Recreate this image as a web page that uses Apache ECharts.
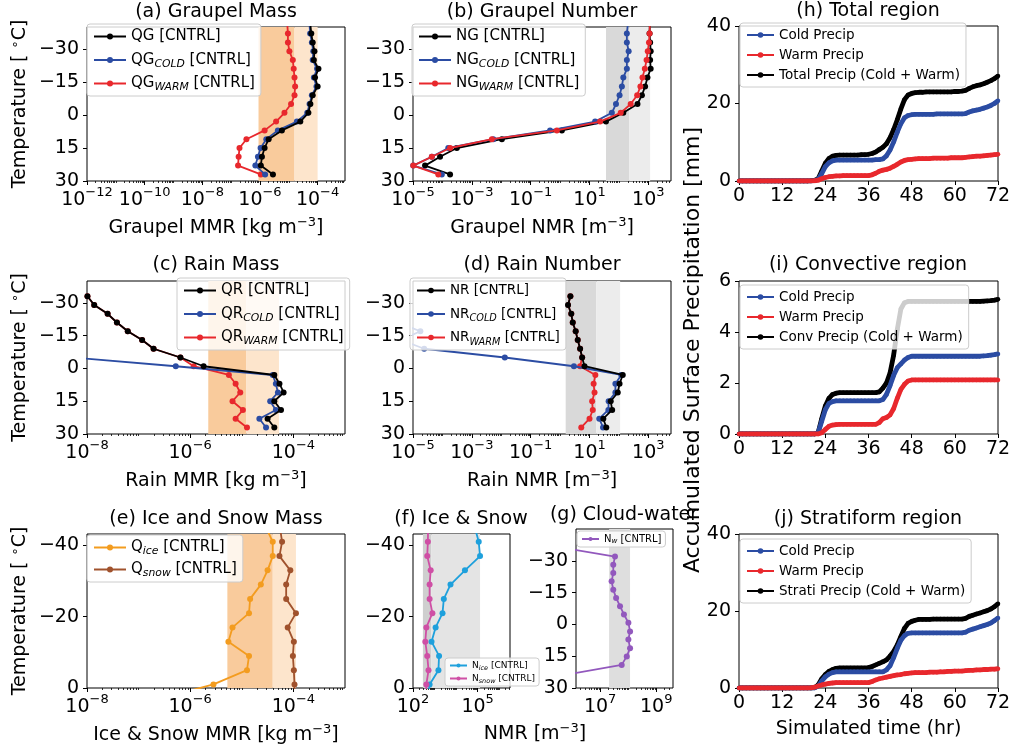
<!DOCTYPE html>
<html>
<head>
<meta charset="utf-8">
<script src="https://cdn.jsdelivr.net/npm/echarts@6/dist/echarts.min.js"></script>
<style>
  html, body { margin: 0; padding: 0; background: #ffffff; }
  #chart { width: 1022px; height: 751px; }
</style>
</head>
<body>
<div id="chart"></div>
<script>
// ---------- vertical profiles: temperature levels [°C] ----------
const tempAB = [-41, -37, -33, -29, -25, -21, -17, -13, -9, -5, -1, 3, 7, 11, 15, 19, 23, 27];
const tempCD = [-33, -29, -25, -21, -17, -13, -9, -5, -1, 3, 7, 11, 15, 19, 23, 27];
const tempRainCold = [-5, -1, 3, 7, 11, 15, 19, 23, 27];
const tempNrCold = [-21, -17, -13, -9, -5, -1, 3, 7, 11, 15, 19, 23, 27];
const tempEF = [-45, -41, -37, -33, -29, -25, -21, -17, -13, -9, -5, -1, 3];
const tempG = [-36, -32, -28.1, -24.2, -20.3, -16.4, -12.5, -8.6, -4.7, -0.8, 3.3, 7.1, 11.2, 15.1, 19.1, 23, 27];

// (a) graupel mass mixing ratio [kg m^-3]
const qgTotal = [5.62e-5, 6.03e-5, 6.76e-5, 7.76e-5, 7.41e-5, 1.07e-4, 8.13e-5, 1.0e-4, 6.76e-5, 5.62e-5, 4.79e-5, 2.51e-5, 5.75e-6, 2.0e-6, 1.45e-6, 1.17e-6, 1.07e-6, 2.82e-6];
const qgCold  = [5.25e-5, 5.5e-5, 6.31e-5, 7.08e-5, 6.76e-5, 9.55e-5, 7.41e-5, 9.12e-5, 6.31e-5, 5.25e-5, 4.37e-5, 1.91e-5, 4.17e-6, 1.66e-6, 1.05e-6, 8.51e-7, 6.92e-7, 1.51e-6];
const qgWarm  = [8.91e-6, 9.33e-6, 9.33e-6, 1.05e-5, 1.38e-5, 1.48e-5, 1.58e-5, 1.66e-5, 1.58e-5, 1.2e-5, 7.08e-6, 3.63e-6, 1.45e-6, 3.39e-7, 1.95e-7, 1.82e-7, 1.74e-7, 1.07e-6];
const qgBands = [8.91e-7, 1.58e-5, 1.0e-4];

// (b) graupel number [m^-3]
const ngTotal = [1120, 1100, 1150, 1200, 1150, 1200, 933, 776, 603, 427, 141, 36.3, 1.15, 0.0105, 3.09e-4, 8.32e-5, 2.57e-5, 1.82e-4];
const ngCold  = [200, 186, 186, 214, 186, 186, 141, 126, 105, 79.4, 57.5, 15.5, 0.457, 5.37e-3, 1.58e-4, 4.37e-5, 1.02e-5, 9.55e-5];
const ngWarm  = [1120, 1100, 1050, 955, 871, 759, 631, 537, 417, 251, 115, 22.9, 0.776, 4.79e-3, 1.82e-4, 4.37e-5, 1.02e-5, 7.24e-5];
const ngBands = [36.3, 224, 1150];

// (c) rain mass [kg m^-3]
const qrTotal = [1.02e-8, 1.38e-8, 2.51e-8, 3.8e-8, 6.17e-8, 1.17e-7, 1.95e-7, 6.46e-7, 1.82e-6, 4.27e-5, 5.37e-5, 6.46e-5, 4.27e-5, 5.75e-5, 3.16e-5, 4.27e-5];
const qrWarm  = [1.02e-8, 1.38e-8, 2.51e-8, 3.8e-8, 6.17e-8, 1.17e-7, 1.95e-7, 6.46e-7, 1.17e-6, 5.62e-6, 7.59e-6, 9.33e-6, 6.61e-6, 1.05e-5, 7.59e-6, 1.26e-5];
const qrCold  = [5.01e-9, 5.25e-7, 3.98e-5, 4.57e-5, 5.01e-5, 3.55e-5, 4.57e-5, 2.19e-5, 2.95e-5];
const qrBands = [2.24e-6, 1.23e-5, 5.25e-5];

// (d) rain number [m^-3]
const nrTotal = [2.24, 1.86, 2.40, 2.69, 3.39, 3.98, 4.79, 5.62, 6.76, 135, 105, 91.2, 52.5, 58.9, 29.5, 37.2];
const nrWarm  = [2.24, 1.86, 2.40, 2.69, 3.39, 3.98, 4.79, 5.62, 4.79, 15.8, 13.8, 14.8, 12.3, 12.9, 10.0, 5.25];
const nrCold  = [3.16e-6, 1.78e-5, 3.98e-6, 2.4e-5, 0.0132, 2.95, 120, 75.9, 75.9, 44.7, 43.7, 21.4, 28.8];
const nrBands = [1.55, 17.0, 110];

// (e) ice and snow mass [kg m^-3]
const qIce  = [2.95e-5, 3.98e-5, 3.98e-5, 3.16e-5, 2.34e-5, 1.45e-5, 1.38e-5, 6.61e-6, 5.5e-6, 1.38e-5, 1.26e-5, 2.82e-6, 2.51e-7];
const qSnow = [5.5e-5, 6.03e-5, 5.37e-5, 8.71e-5, 7.24e-5, 7.24e-5, 1.12e-4, 7.76e-5, 1.02e-4, 9.77e-5, 1.02e-4, 1.05e-4, 1.05e-4];
const qisBands = [5.25e-6, 3.98e-5, 1.12e-4];

// (f) ice and snow number [m^-3]
const nIce  = [7.41e4, 1.12e5, 1.29e5, 2.57e4, 5.5e3, 2.69e3, 2.34e3, 1.12e3, 724, 1.62e3, 1.51e3, 589, 501];
const nSnow = [501, 490, 457, 661, 589, 589, 794, 417, 372, 457, 525, 417, 398];
const nisBands = [288, 708, 1.29e5];

// (g) cloud-water number [m^-3]
const nCloud = [5.5e5, 3.39e7, 2.95e7, 2.95e7, 2.57e7, 2.95e7, 3.72e7, 5.13e7, 7.08e7, 1.02e8, 1.17e8, 1.02e8, 1.17e8, 8.91e7, 5.89e7, 1.26e6, 1.0e4];
const ncBand = [2.09e7, 1.17e8];

// ---------- accumulated surface precipitation [mm] vs simulated time [hr] ----------
const hours = [0,1,2,3,4,5,6,7,8,9,10,11,12,13,14,15,16,17,18,19,20,21,22,23,24,25,26,27,28,29,30,31,32,33,34,35,36,
  37,38,39,40,41,42,43,44,45,46,47,48,49,50,51,52,53,54,55,56,57,58,59,60,61,62,63,64,65,66,67,68,69,70,71,72];

const totalTot = [0,0,0,0,0,0,0,0,0,0, 0,0,0,0,0,0,0,0,0,0,
  0.05,0.15,0.6,2.6,4.6,5.8,6.4,6.6,6.7,6.7,
  6.7,6.7,6.7,6.7,6.8,6.8,6.9,7.1,7.5,8.1,
  8.7,9.6,11.2,13.3,15.8,18.6,21.0,22.2,22.6,22.8,
  22.9,22.9,23.0,23.0,23.0,23.0,23.0,23.0,23.0,23.0,
  23.1,23.1,23.2,23.4,23.9,24.3,24.6,24.8,25.1,25.5,
  25.9,26.4,27.1];
const totalCold = [0,0,0,0,0,0,0,0,0,0, 0,0,0,0,0,0,0,0,0,0,
  0.03,0.1,0.4,1.9,3.7,4.7,5.2,5.4,5.4,5.4,
  5.4,5.4,5.4,5.4,5.4,5.4,5.4,5.4,5.5,5.5,
  5.7,6.5,8.0,10.1,12.6,14.8,16.3,16.9,17.1,17.2,
  17.2,17.2,17.2,17.2,17.2,17.3,17.3,17.3,17.3,17.3,
  17.3,17.3,17.3,17.4,17.8,18.1,18.3,18.5,18.8,19.1,
  19.5,20.0,20.7];
const totalWarm = [0,0,0,0,0,0,0,0,0,0, 0,0,0,0,0,0,0,0,0,0,
  0.02,0.05,0.2,0.6,0.9,1.1,1.2,1.3,1.3,1.4,
  1.4,1.4,1.4,1.4,1.4,1.4,1.4,1.6,2.0,2.5,
  2.8,3.0,3.3,3.8,4.3,4.9,5.3,5.5,5.6,5.7,
  5.8,5.8,5.8,5.8,5.9,5.9,5.9,5.9,5.9,6.0,
  6.0,6.0,6.0,6.1,6.2,6.3,6.4,6.4,6.5,6.6,
  6.7,6.8,6.9];

const convTot = [0,0,0,0,0,0,0,0,0,0, 0,0,0,0,0,0,0,0,0,0,
  0,0,0.05,0.6,1.1,1.4,1.55,1.6,1.62,1.62,
  1.62,1.62,1.62,1.62,1.62,1.62,1.62,1.62,1.62,1.65,
  1.8,2.0,2.4,3.1,4.1,4.9,5.15,5.2,5.2,5.2,
  5.2,5.2,5.2,5.2,5.2,5.2,5.2,5.2,5.2,5.2,
  5.2,5.2,5.2,5.2,5.2,5.2,5.2,5.2,5.21,5.22,
  5.23,5.25,5.28];
const convCold = [0,0,0,0,0,0,0,0,0,0, 0,0,0,0,0,0,0,0,0,0,
  0,0,0.05,0.5,0.95,1.2,1.27,1.3,1.3,1.3,
  1.3,1.3,1.3,1.3,1.3,1.3,1.3,1.3,1.3,1.3,
  1.35,1.55,1.9,2.3,2.6,2.75,2.9,3.0,3.05,3.05,
  3.05,3.05,3.05,3.05,3.05,3.05,3.05,3.05,3.05,3.05,
  3.05,3.05,3.05,3.05,3.05,3.05,3.05,3.05,3.06,3.07,
  3.09,3.11,3.14];
const convWarm = [0,0,0,0,0,0,0,0,0,0, 0,0,0,0,0,0,0,0,0,0,
  0,0,0,0.05,0.18,0.3,0.35,0.37,0.38,0.38,
  0.38,0.38,0.38,0.38,0.38,0.38,0.38,0.38,0.38,0.45,
  0.6,0.65,0.75,1.0,1.4,1.75,1.95,2.08,2.12,2.12,
  2.12,2.12,2.12,2.12,2.12,2.12,2.12,2.12,2.12,2.12,
  2.12,2.12,2.12,2.12,2.12,2.12,2.12,2.12,2.12,2.12,
  2.12,2.12,2.12];

const stratTot = [0,0,0,0,0,0,0,0,0,0, 0,0,0,0,0,0,0,0,0,0,
  0,0.1,0.8,2.4,3.5,4.3,4.8,5.1,5.2,5.2,
  5.2,5.2,5.2,5.2,5.2,5.2,5.3,5.6,6.0,6.4,
  6.8,7.3,8.3,9.5,11.2,13.4,15.5,16.8,17.3,17.6,
  17.8,17.8,17.8,17.8,17.9,17.9,17.9,17.9,17.9,17.9,
  17.9,17.9,17.9,18.1,18.6,18.9,19.2,19.5,19.8,20.1,
  20.5,21.1,21.9];
const stratCold = [0,0,0,0,0,0,0,0,0,0, 0,0,0,0,0,0,0,0,0,0,
  0,0,0.5,1.8,2.9,3.6,4.0,4.2,4.2,4.2,
  4.2,4.2,4.2,4.2,4.2,4.2,4.2,4.2,4.2,4.2,
  4.2,4.7,5.8,7.9,10.3,12.4,13.6,14.2,14.3,14.3,
  14.3,14.3,14.3,14.3,14.3,14.3,14.3,14.3,14.3,14.3,
  14.3,14.3,14.3,14.5,15.0,15.3,15.6,15.9,16.2,16.5,
  16.9,17.5,18.2];
const stratWarm = [0,0,0,0,0,0,0,0,0,0, 0,0,0,0,0,0,0,0,0,0,
  0.05,0.2,0.5,0.8,1.0,1.2,1.3,1.4,1.4,1.4,
  1.4,1.4,1.4,1.4,1.4,1.4,1.4,1.7,2.1,2.4,
  2.6,2.8,3.0,3.2,3.4,3.5,3.7,3.8,3.9,4.0,
  4.0,4.0,4.0,4.1,4.1,4.1,4.2,4.2,4.3,4.3,
  4.4,4.4,4.4,4.5,4.6,4.6,4.7,4.7,4.8,4.8,
  4.9,4.9,5.0];

// ---------- styling ----------
const FONT = 'DejaVu Sans';
const BLACK = '#000000', BLUE = '#2b4ca3', RED = '#e8282d';
const ORANGE = '#f39c1f', BROWN = '#a0522d', SKY = '#1ea0dc', PINK = '#cf4fa5', PURPLE = '#9258bd';
const ORANGE_DARK = '#f9cb9c', ORANGE_LIGHT = '#fde5cc';
const GRAY_DARK = '#d9d9d9', GRAY_LIGHT = '#ececec';

const minusSign = v => (v < 0 ? '\u2212' + Math.abs(v) : String(v));
const decadeLabel = v => '{b|10}{s|' + minusSign(Math.round(v)) + '}';
const decadeRich = {
  b: { fontFamily: FONT, fontSize: 19, color: '#000', lineHeight: 24, verticalAlign: 'bottom' },
  s: { fontFamily: FONT, fontSize: 13, color: '#000', lineHeight: 14, verticalAlign: 'top' }
};
const supRich = { s: { fontFamily: FONT, fontSize: 13, color: '#000', lineHeight: 13, verticalAlign: 'top' } };
const hiddenLine = { show: false, onZero: false };

const gridBoxes = [
  [87, 27, 258, 154],   // (a)
  [413, 27, 258, 154],  // (b)
  [87, 281, 258, 153],  // (c)
  [413, 281, 258, 153], // (d)
  [87, 534, 258, 154],  // (e)
  [413, 534, 97, 154],  // (f)
  [576, 529, 97, 159],  // (g)
  [739, 26, 259, 155],  // (h)
  [739, 281, 259, 153], // (i)
  [739, 534, 259, 154]  // (j)
];
const grid = gridBoxes.map(b => ({
  left: b[0], top: b[1], width: b[2], height: b[3],
  show: true, borderColor: '#000', borderWidth: 1, backgroundColor: '#fff',
  containLabel: false, outerBoundsMode: 'none'
}));

// log-scaled x axis drawn on exponents: major decades with labels, minor ticks at k*10^n
function logXAxes(gi, lo, hi, labelExps, name) {
  const minor = [];
  for (let e = Math.floor(lo); e < hi; e++) {
    for (let k = 1; k < 10; k++) {
      const v = e + Math.log10(k);
      if (v < lo || v > hi) continue;
      if (k === 1 && labelExps.indexOf(e) >= 0) continue;
      minor.push(v);
    }
  }
  const main = {
    type: 'value', gridIndex: gi, min: lo, max: hi, position: 'bottom',
    axisLine: hiddenLine, splitLine: { show: false },
    axisTick: { show: true, customValues: labelExps, length: 4, lineStyle: { color: '#000', width: 1 } },
    axisLabel: { customValues: labelExps, formatter: decadeLabel, rich: decadeRich, margin: 5, color: '#000' }
  };
  if (name) {
    Object.assign(main, {
      name, nameLocation: 'middle', nameGap: 35,
      nameTextStyle: { fontFamily: FONT, fontSize: 19, color: '#000', lineHeight: 24, rich: supRich }
    });
  }
  const minorAxis = {
    type: 'value', gridIndex: gi, min: lo, max: hi, position: 'bottom',
    axisLine: hiddenLine, splitLine: { show: false }, axisLabel: { show: false },
    axisTick: { show: true, customValues: minor, length: 2, lineStyle: { color: '#000', width: 0.8 } }
  };
  return [main, minorAxis];
}

function tempYAxis(gi, lo, hi, ticks, named) {
  const ax = {
    type: 'value', gridIndex: gi, min: lo, max: hi, inverse: true, position: 'left',
    axisLine: hiddenLine, splitLine: { show: false },
    axisTick: { show: true, customValues: ticks, length: 4, lineStyle: { color: '#000' } },
    axisLabel: { customValues: ticks, formatter: minusSign, fontFamily: FONT, fontSize: 19, color: '#000', margin: 8 }
  };
  if (named) {
    Object.assign(ax, {
      name: 'Temperature [ {s|\u2218}C]', nameLocation: 'middle', nameGap: 56,
      nameTextStyle: { fontFamily: FONT, fontSize: 19, color: '#000', lineHeight: 22, rich: supRich }
    });
  }
  return ax;
}

function timeXAxis(gi, named) {
  const ax = {
    type: 'value', gridIndex: gi, min: 0, max: 72, interval: 12, position: 'bottom',
    axisLine: hiddenLine, splitLine: { show: false },
    axisTick: { show: true, length: 4, lineStyle: { color: '#000' } },
    axisLabel: { fontFamily: FONT, fontSize: 19, color: '#000', margin: 6 }
  };
  if (named) {
    Object.assign(ax, { name: 'Simulated time (hr)', nameLocation: 'middle', nameGap: 32,
      nameTextStyle: { fontFamily: FONT, fontSize: 19, color: '#000' } });
  }
  return ax;
}
function precipYAxis(gi, max, interval) {
  return {
    type: 'value', gridIndex: gi, min: 0, max, interval, position: 'left',
    axisLine: hiddenLine, splitLine: { show: false },
    axisTick: { show: true, length: 4, lineStyle: { color: '#000' } },
    axisLabel: { fontFamily: FONT, fontSize: 19, color: '#000', margin: 8 }
  };
}

const xAxis = [].concat(
  logXAxes(0, -12, -3.05, [-12, -10, -8, -6, -4], 'Graupel MMR [kg m{s|\u22123}]'),
  logXAxes(1, -5, 3.77, [-5, -3, -1, 1, 3], 'Graupel NMR [m{s|\u22123}]'),
  logXAxes(2, -8, -3, [-8, -6, -4], 'Rain MMR [kg m{s|\u22123}]'),
  logXAxes(3, -5, 3.77, [-5, -3, -1, 1, 3], 'Rain NMR [m{s|\u22123}]'),
  logXAxes(4, -8, -3, [-8, -6, -4], 'Ice & Snow MMR [kg m{s|\u22123}]'),
  logXAxes(5, 2, 6.5, [2, 5], null),
  logXAxes(6, 6.14, 9.6, [7, 9], null),
  [timeXAxis(7, false), timeXAxis(8, false), timeXAxis(9, true)]
);
const yAxis = [
  tempYAxis(0, -40, 30, [-30, -15, 0, 15, 30], true),
  tempYAxis(1, -40, 30, [-30, -15, 0, 15, 30], false),
  tempYAxis(2, -40, 30, [-30, -15, 0, 15, 30], true),
  tempYAxis(3, -40, 30, [-30, -15, 0, 15, 30], false),
  tempYAxis(4, -43.2, 0, [-40, -20, 0], true),
  tempYAxis(5, -43.2, 0, [-40, -20, 0], false),
  tempYAxis(6, -45, 30, [-30, -15, 0, 15, 30], false),
  precipYAxis(7, 40, 20),
  precipYAxis(8, 6, 2),
  precipYAxis(9, 40, 20)
];

// profile line: values on the log axis, temperature on the vertical axis
function profile(name, gi, temps, vals, color, z) {
  return {
    type: 'line', name, xAxisIndex: 2 * gi, yAxisIndex: gi, z,
    data: temps.map((t, i) => [Math.log10(vals[i]), t]),
    symbol: 'circle', symbolSize: 6, showSymbol: true, clip: true, silent: true,
    lineStyle: { color, width: 1.8 }, itemStyle: { color }
  };
}
// shaded ranges behind the profiles
function bands(gi, edges, colors) {
  const data = colors.map((c, i) => [
    { xAxis: Math.log10(edges[i]), itemStyle: { color: c } },
    { xAxis: Math.log10(edges[i + 1]) }
  ]);
  return { type: 'line', xAxisIndex: 2 * gi, yAxisIndex: gi, data: [], z: 1, silent: true,
    markArea: { silent: true, data } };
}
function accum(name, gi, vals, color, z) {
  return {
    type: 'line', name, xAxisIndex: 14 + (gi - 7), yAxisIndex: gi, z,
    data: hours.map((h, i) => [h, vals[i]]),
    symbol: 'circle', symbolSize: 4.5, showSymbol: true, clip: true, silent: true,
    lineStyle: { color, width: 4.8 }, itemStyle: { color }
  };
}

const series = [
  bands(0, qgBands, [ORANGE_DARK, ORANGE_LIGHT]),
  profile('QG_WARM [CNTRL]', 0, tempAB, qgWarm, RED, 2),
  profile('QG_COLD [CNTRL]', 0, tempAB, qgCold, BLUE, 3),
  profile('QG [CNTRL]', 0, tempAB, qgTotal, BLACK, 4),

  bands(1, ngBands, [GRAY_DARK, GRAY_LIGHT]),
  profile('NG_WARM [CNTRL]', 1, tempAB, ngWarm, RED, 4),
  profile('NG_COLD [CNTRL]', 1, tempAB, ngCold, BLUE, 3),
  profile('NG [CNTRL]', 1, tempAB, ngTotal, BLACK, 2),

  bands(2, qrBands, [ORANGE_DARK, ORANGE_LIGHT]),
  profile('QR_WARM [CNTRL]', 2, tempCD, qrWarm, RED, 2),
  profile('QR_COLD [CNTRL]', 2, tempRainCold, qrCold, BLUE, 3),
  profile('QR [CNTRL]', 2, tempCD, qrTotal, BLACK, 4),

  bands(3, nrBands, [GRAY_DARK, GRAY_LIGHT]),
  profile('NR_WARM [CNTRL]', 3, tempCD, nrWarm, RED, 2),
  profile('NR_COLD [CNTRL]', 3, tempNrCold, nrCold, BLUE, 3),
  profile('NR [CNTRL]', 3, tempCD, nrTotal, BLACK, 4),

  bands(4, qisBands, [ORANGE_DARK, ORANGE_LIGHT]),
  profile('Q_ice [CNTRL]', 4, tempEF, qIce, ORANGE, 3),
  profile('Q_snow [CNTRL]', 4, tempEF, qSnow, BROWN, 3),

  bands(5, nisBands, ['#cfcfcf', '#e4e4e4']),
  profile('N_ice [CNTRL]', 5, tempEF, nIce, SKY, 3),
  profile('N_snow [CNTRL]', 5, tempEF, nSnow, PINK, 3),

  bands(6, ncBand, ['#dedede']),
  profile('N_w [CNTRL]', 6, tempG, nCloud, PURPLE, 3),

  accum('Total Precip (Cold + Warm)', 7, totalTot, BLACK, 2),
  accum('Cold Precip', 7, totalCold, BLUE, 3),
  accum('Warm Precip', 7, totalWarm, RED, 4),
  accum('Conv Precip (Cold + Warm)', 8, convTot, BLACK, 2),
  accum('Cold Precip', 8, convCold, BLUE, 3),
  accum('Warm Precip', 8, convWarm, RED, 4),
  accum('Strati Precip (Cold + Warm)', 9, stratTot, BLACK, 2),
  accum('Cold Precip', 9, stratCold, BLUE, 3),
  accum('Warm Precip', 9, stratWarm, RED, 4)
];

// legend boxes with subscripted species names
const subName = name => name.replace(/_(\w+)/, '{sub|$1}');
function legendBox(left, top, names, o) {
  return {
    left, top, orient: 'vertical', data: names, selectedMode: false,
    itemWidth: o.iw, itemHeight: o.ih, itemGap: o.gap, padding: o.pad,
    backgroundColor: 'rgba(255,255,255,0.8)', borderColor: '#cccccc', borderWidth: 1, borderRadius: 3,
    formatter: subName,
    textStyle: {
      fontFamily: FONT, fontSize: o.fs, color: '#000', lineHeight: o.lh,
      rich: { sub: { fontFamily: FONT, fontSize: o.fs * 0.72, fontStyle: 'italic', color: '#000',
        verticalAlign: 'bottom', lineHeight: o.lh * 0.62 } }
    }
  };
}
const bigLeg = { iw: 32, ih: 7.5, gap: 4.5, pad: [3, 6, 3, 6], fs: 15, lh: 19 };
const precipLeg = { iw: 27, ih: 7, gap: 4, pad: [4, 6, 4, 6], fs: 13.5, lh: 16 };
const tinyLeg = { iw: 17, ih: 5, gap: 2, pad: [2, 4, 2, 4], fs: 9, lh: 11 };

const legend = [
  legendBox(87, 24, ['QG [CNTRL]', 'QG_COLD [CNTRL]', 'QG_WARM [CNTRL]'], bigLeg),
  legendBox(412, 24, ['NG [CNTRL]', 'NG_COLD [CNTRL]', 'NG_WARM [CNTRL]'], bigLeg),
  legendBox(177, 278, ['QR [CNTRL]', 'QR_COLD [CNTRL]', 'QR_WARM [CNTRL]'], bigLeg),
  legendBox(410, 278, ['NR [CNTRL]', 'NR_COLD [CNTRL]', 'NR_WARM [CNTRL]'],
    { iw: 28, ih: 7, gap: 4.5, pad: [3, 6, 3, 6], fs: 13.5, lh: 19 }),
  legendBox(87, 535, ['Q_ice [CNTRL]', 'Q_snow [CNTRL]'], { iw: 32, ih: 7.5, gap: 3, pad: [3, 6, 3, 6], fs: 15, lh: 19 }),
  legendBox(445, 658, ['N_ice [CNTRL]', 'N_snow [CNTRL]'], tinyLeg),
  legendBox(577, 531, ['N_w [CNTRL]'], { iw: 17, ih: 5, gap: 2, pad: [2, 4, 2, 4], fs: 10, lh: 12 }),
  legendBox(740, 23, ['Cold Precip', 'Warm Precip', 'Total Precip (Cold + Warm)'], precipLeg),
  legendBox(740, 285, ['Cold Precip', 'Warm Precip', 'Conv Precip (Cold + Warm)'], precipLeg),
  legendBox(740, 539, ['Cold Precip', 'Warm Precip', 'Strati Precip (Cold + Warm)'], precipLeg)
];

// panel titles and shared labels
function text(x, y, str, size, rotation) {
  return {
    type: 'text', x, y, rotation: rotation || 0, silent: true, z: 20,
    style: {
      text: str, fill: '#000', fontFamily: FONT, fontSize: size, lineHeight: size + 5,
      align: 'center', verticalAlign: 'middle', textAlign: 'center', textVerticalAlign: 'middle',
      rich: { s: { fontFamily: FONT, fontSize: 13, fill: '#000', lineHeight: 13, verticalAlign: 'top' } }
    }
  };
}
const graphic = [
  text(216, 12, '(a) Graupel Mass', 19),
  text(542, 12, '(b) Graupel Number', 19),
  text(216, 265, '(c) Rain Mass', 19),
  text(542, 265, '(d) Rain Number', 19),
  text(216, 519, '(e) Ice and Snow Mass', 19),
  text(461, 519, '(f) Ice & Snow', 19),
  text(624, 515, '(g) Cloud-water', 19),
  text(868, 11, '(h) Total region', 19),
  text(868, 265, '(i) Convective region', 19),
  text(868, 519, '(j) Stratiform region', 19),
  text(535, 734, 'NMR [m{s|\u22123}]', 19),
  text(693, 350, 'Accumulated Surface Precipitation [mm]', 22, Math.PI / 2)
];

const chart = echarts.init(document.getElementById('chart'), null, { renderer: 'canvas', width: 1022, height: 751 });
chart.setOption({
  backgroundColor: '#ffffff',
  animation: false,
  textStyle: { fontFamily: FONT },
  grid, xAxis, yAxis, series, legend, graphic
});
</script>
</body>
</html>
